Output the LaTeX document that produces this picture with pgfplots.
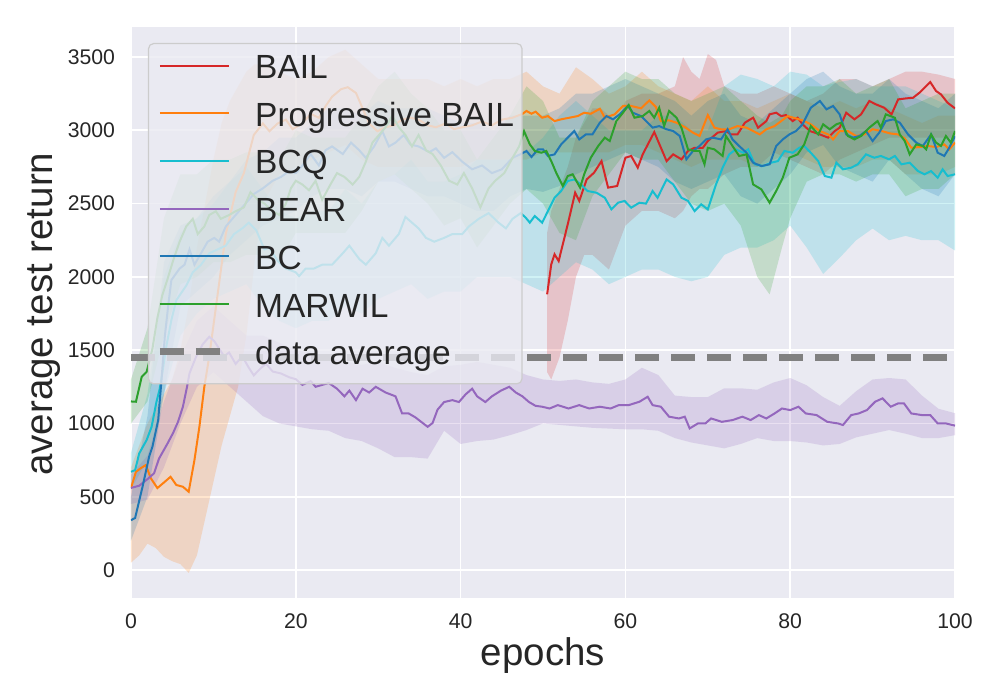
\documentclass[border=0pt]{standalone}
\usepackage{pgfplots}
\pgfplotsset{compat=1.18}
\usepackage{pgfplotstable}
\usepgfplotslibrary{fillbetween}
\usepackage{fontspec}
\setmainfont{Liberation Sans}

\definecolor{bgc}{HTML}{EAEAF2}
\definecolor{txt}{HTML}{262626}
\definecolor{cbail}{HTML}{D62728}
\definecolor{cpb}{HTML}{FF7F0E}
\definecolor{cbcq}{HTML}{17BECF}
\definecolor{cbear}{HTML}{9467BD}
\definecolor{cbc}{HTML}{1F77B4}
\definecolor{cmar}{HTML}{2CA02C}
\definecolor{cavg}{HTML}{808080}
\definecolor{legedge}{HTML}{CCCCCC}

% ---------------- mean curves ----------------
\pgfplotstableread{
x y
50.5 1881
51 2085
51.4 2154
51.9 2108
52.4 2222
53 2358
53.9 2574
54.4 2518
55.3 2665
56.2 2711
57.1 2790
57.9 2609
59 2620
60 2813
60.7 2825
61.5 2745
62.1 2836
63.5 2988
65 2790
65.8 2836
66.8 2802
67.6 2859
68.4 2881
69.4 2881
70 2927
71.2 2984
72.2 2995
72.8 2972
73.6 2972
74.5 3052
75.5 3086
76.1 3018
77.1 3063
77.5 3109
78.3 3120
78.9 3097
79.5 3104
80.3 3063
80.9 3086
81.5 3041
82.4 2995
83.6 2972
84.6 2950
85.4 2995
86 3018
86.8 3120
87.8 3075
88.6 3109
89.6 3200
90.4 3177
91.4 3154
92.3 3109
93.1 3211
94.1 3218
94.9 3222
95.7 3257
96.3 3291
97 3329
97.7 3268
98.3 3245
99.1 3188
100 3150
}\bailline

\pgfplotstableread{
x y
0 559
0.6 670
1.2 695
1.8 716
2.4 627
3.2 559
4.1 602
4.8 636
5.5 580
6.3 568
7 534
7.7 750
8.3 977
8.9 1250
9.5 1458
10.5 1875
11.5 2292
12.7 2578
13.7 2708
14.9 2968
16 3047
16.8 2994
17.8 3047
18.8 3073
19.6 3008
20.8 3047
21.8 3112
22.8 3086
23.6 3164
24.4 3229
25.5 3281
26.3 3294
27.3 3255
28.1 3151
28.9 3047
29.9 2994
30.9 3021
31.9 3034
32.9 3073
33.9 3086
34.9 3073
36 3034
37 3021
38.2 3047
39.2 3008
40.2 3021
41.4 3034
42.6 3060
43.8 3034
45 3073
46.3 3086
47.5 3112
48 3132
48.6 3113
49.1 3127
49.9 3086
50.6 3097
51.4 3063
52.2 3075
53.2 3086
54.2 3097
55 3120
55.8 3113
56.9 3147
57.5 3086
58.7 3109
59.7 3166
60.7 3166
61.9 3150
62.9 3204
63.7 3159
64.3 3063
65.3 3068
66.2 3052
67.2 3022
68.2 2984
69 2961
70 3104
70.8 3018
71.6 3007
72.6 3007
73.6 3029
74.7 3018
75.5 2995
76.3 2972
77.1 3007
78.1 3029
78.9 3063
79.7 3097
80.7 3081
81.5 3068
82.5 3041
83.6 2995
84.6 2972
85.2 2938
86 2995
87 2995
88 2961
89 2972
90 3007
91.1 2995
92.1 2979
93.1 2972
93.9 2945
94.7 2881
95.7 2886
96.7 2893
97.7 2886
98.7 2904
99.3 2870
100 2916
}\pbline

\pgfplotstableread{
x y
0 670
0.5 682
1.0 796
1.9 887
2.5 977
3.1 1150
3.5 1240
3.9 1380
4.3 1530
4.9 1705
5.5 1841
6.7 1940
7.5 2031
8.5 2083
9.5 2161
10.5 2187
11.5 2213
12.5 2292
13.5 2331
14.3 2370
15.2 2318
16.2 2187
16.8 2200
17.8 2109
18.8 2057
20 2031
20.4 2005
21.2 2057
22.2 2057
23.2 2083
24.4 2083
25.7 2161
26.5 2213
27.7 2122
28.5 2083
29.7 2161
30.5 2266
31.3 2213
32.5 2292
33.3 2409
34.1 2370
34.9 2331
35.8 2266
36.8 2240
38 2266
39 2292
40.2 2292
41 2344
42.2 2396
43.4 2435
44.6 2370
45.5 2331
46.3 2396
47.3 2435
47.9 2404
48.4 2370
49 2415
49.9 2370
50.6 2449
51.4 2540
52.2 2586
53 2654
53.8 2665
54.6 2631
55.4 2586
56.5 2574
57.5 2540
58.3 2461
59.1 2506
59.9 2518
60.7 2472
61.7 2506
62.5 2500
63.3 2586
63.9 2540
65 2665
65.8 2631
66.8 2540
67.6 2518
68.4 2449
69.2 2495
70 2461
71 2631
71.8 2745
72.6 2836
73.4 2870
74.3 2847
74.9 2870
75.7 2768
76.7 2756
77.7 2779
78.5 2790
79.3 2859
80.3 2847
81.1 2881
81.7 2893
82.5 2847
83.4 2790
84.2 2688
85 2677
85.6 2779
86.4 2734
87.4 2745
88.2 2768
89.2 2836
90.2 2813
91 2825
92 2802
92.7 2825
93.5 2768
94.5 2779
95.5 2722
96.3 2700
97.1 2722
97.9 2677
98.5 2734
99.1 2688
100 2700
}\bcqline

\pgfplotstableread{
x y
0 560
1 575
2 620
2.8 660
3.4 760
3.8 800
4.4 860
5.1 934
5.7 1010
6.3 1114
6.8 1250
7.1 1342
7.9 1455
8.7 1540
9.5 1591
10.1 1562
10.7 1510
11.3 1458
11.9 1484
12.7 1406
13.5 1458
14.3 1380
14.9 1328
15.8 1380
16.4 1406
17.2 1354
18.2 1341
19.2 1315
20 1302
20.8 1263
21.8 1289
22.4 1250
23.2 1263
24 1276
25 1237
25.9 1185
26.5 1224
27.3 1159
28.1 1237
28.9 1211
29.7 1250
30.9 1211
32.1 1185
32.9 1068
33.7 1068
34.5 1042
35.4 1003
36 977
36.6 1003
37.2 1094
38 1146
39 1159
39.8 1146
40.6 1198
41.4 1237
42 1185
43 1146
43.8 1185
44.9 1224
45.9 1250
46.7 1211
47.5 1185
48.3 1146
49.1 1120
49.9 1114
50.8 1102
51.8 1125
53.1 1102
54.4 1125
55.6 1102
56.9 1114
58.2 1102
59.2 1125
60.4 1125
61.7 1148
62.7 1182
63.3 1125
64.3 1114
65.3 1046
66.5 1034
67.2 1046
67.8 966
68.8 1000
69.7 1000
70.4 1034
71.7 1011
73 1023
74.2 1046
75.2 1023
76.2 1057
77.1 1034
78.1 1068
79 1102
80 1091
81 1114
81.9 1068
83.2 1057
84.5 1011
85.8 1000
86.4 989
87.4 1057
88.3 1068
89.3 1091
90.3 1148
91.2 1171
92.2 1114
93.1 1137
93.8 1137
94.7 1068
96 1057
97 1057
97.9 1000
98.9 1000
100 985
}\bearline

\pgfplotstableread{
x y
0 340
0.5 355
1.4 568
2.2 773
2.6 841
3.3 1023
3.7 1296
4.1 1591
4.5 1796
4.9 1978
5.9 2057
6.5 2083
7.1 2187
7.7 2083
8.5 2161
9.3 2240
10.1 2266
10.7 2240
11.5 2344
12.3 2396
13.1 2448
13.9 2500
14.9 2565
16 2604
17.2 2656
18.2 2682
19.2 2721
20 2708
20.8 2760
21.8 2838
22.8 2760
23.6 2864
24.4 2890
25.7 2838
26.7 2916
27.7 2864
28.5 2812
29.5 2890
30.5 2994
31.3 2890
32.1 2916
33.1 2968
33.9 2903
34.9 2890
36.2 2851
37 2877
38 2812
39 2851
40.2 2786
41.4 2734
42.6 2760
43.8 2708
45 2734
46.3 2812
47.3 2838
48 2859
48.6 2818
49.4 2870
50 2870
50.6 2825
51.4 2836
52.2 2904
53 2950
53.8 2995
54.4 2938
55.2 2972
56 2972
56.9 3052
57.7 3097
58.5 3075
59.3 3109
60.3 3166
60.9 3120
61.9 3097
62.5 3063
63.3 3018
64.1 3029
65 3007
65.8 2995
66.6 2961
67.4 2802
68.2 2859
69 2893
69.8 2938
70.6 2950
71.6 2938
72.4 3007
73 2938
73.8 2893
74.7 2847
75.5 2779
76.5 2756
77.5 2768
78.3 2893
79.1 2938
79.9 2972
80.7 2995
81.5 3041
82.5 3154
83.6 3200
84.4 3143
85.2 3166
86 3109
86.8 2972
87.6 2950
88.4 2961
89.2 2995
90 2927
90.8 2984
91.6 3063
92.5 3075
93.3 3052
94.3 2972
95.3 2916
96.1 2893
97.1 2972
97.9 2847
98.7 2825
99.3 2881
100 2961
}\bcline

\pgfplotstableread{
x y
0 1150
0.6 1148
1.3 1318
1.9 1352
2.6 1510
3.2 1719
3.8 1875
4.4 1979
5.1 2109
5.9 2240
6.7 2344
7.5 2396
8.1 2292
8.9 2344
9.5 2422
10.3 2448
10.9 2396
11.9 2422
12.7 2448
13.7 2474
14.5 2578
15.4 2526
16.2 2500
17.2 2448
18 2422
18.8 2500
19.4 2604
20 2656
20.8 2630
21.6 2591
22.4 2656
23.2 2526
24.2 2630
25 2708
25.9 2682
26.9 2630
27.7 2682
28.5 2786
29.3 2916
30.1 2968
30.9 3021
31.7 3099
32.5 3021
33.3 2968
34.1 2890
34.9 2968
35.8 2864
36.6 2838
37.6 2760
38.6 2656
39.6 2630
40.4 2708
41.4 2604
42.4 2474
43.4 2604
44.2 2656
45.3 2708
46.3 2812
47.1 2890
47.7 2994
48.4 2904
49 2859
49.8 2847
50.4 2859
51 2790
51.6 2711
52.4 2620
53 2688
53.6 2700
54.5 2609
55 2700
55.8 2813
56.7 2893
57.5 2950
58.1 2927
58.9 3063
59.7 3120
60.4 3172
61.1 3086
62.1 3097
62.9 3132
63.5 3086
64.1 3154
64.7 3029
65.3 3132
66.2 3086
66.8 3018
67.6 2870
68.4 2859
69 2859
69.6 2768
70 2881
70.8 2870
71.8 2825
72.2 2961
73 2893
73.8 2825
74.7 2836
75.5 2631
76.5 2597
77.5 2506
78.3 2586
79.1 2677
79.9 2813
80.9 2836
81.7 2904
82.5 3029
83.4 2972
84 3041
84.8 3007
85.6 3041
86.2 3052
87 2961
87.8 2938
88.6 2961
89.6 3018
90.6 3063
91 3018
91.6 3109
92.7 3086
93.3 2972
93.9 2927
94.5 2836
95.3 2904
96.1 2893
96.5 2870
97.1 2972
97.7 2916
98.3 2893
98.9 2961
99.5 2916
100 2995
}\marline

% ---------------- confidence bands ----------------
\pgfplotstableread{
x lo hi
50.5 1350 2300
51 1300 2450
52 1450 2600
53 1700 2750
54 2000 2950
55 2150 3050
56 2150 3150
57 2100 3150
58 2050 3100
59 2200 3050
60 2350 3200
62 2450 3250
64 2450 3250
66 2400 3300
67 2450 3500
68 2550 3400
69 2600 3350
70 2600 3520
71 2650 3480
72 2700 3300
74 2750 3250
76 2750 3250
78 2850 3300
80 2800 3250
82 2750 3200
84 2700 3250
86 2800 3350
88 2850 3350
90 2900 3300
92 2950 3350
94 2950 3400
96 2950 3400
98 2950 3380
100 2950 3350
}\bailband

\pgfplotstableread{
x lo hi
0 50 700
1 100 850
2 180 1000
3 150 1100
4 90 1200
5 60 1300
6 40 1500
7 -20 1800
8 100 2200
9 350 2500
10 600 2800
11 850 3050
12 1050 3200
13 1250 3300
14 1600 3400
15 2100 3450
16 2500 3450
18 2700 3400
20 2750 3350
22 2800 3400
24 2850 3500
26 2900 3550
28 2800 3450
30 2750 3350
32 2750 3350
34 2750 3350
36 2750 3350
38 2750 3300
40 2750 3350
42 2800 3300
44 2800 3350
46 2800 3350
48 2800 3400
50 2850 3300
52 2850 3250
54 2850 3430
56 2850 3350
58 2850 3250
60 2900 3300
62 2900 3400
64 2850 3300
66 2800 3250
68 2750 3200
70 2800 3300
72 2800 3200
74 2800 3200
76 2750 3150
78 2800 3200
80 2850 3250
82 2800 3200
84 2750 3150
86 2750 3200
88 2750 3150
90 2800 3200
92 2800 3150
94 2700 3100
96 2700 3050
98 2700 3100
100 2750 3100
}\pbband

\pgfplotstableread{
x lo hi
0 550 800
2 750 1200
4 1200 2000
6 1600 2300
8 1750 2400
10 1850 2500
12 1900 2650
14 1950 2750
16 1800 2600
18 1700 2450
20 1650 2400
22 1700 2450
24 1700 2450
26 1800 2600
28 1750 2500
30 1850 2650
32 1900 2700
34 1950 2800
36 1850 2650
38 1900 2650
40 1900 2700
42 2000 2800
44 2000 2800
46 2000 2800
48 1950 2850
50 1900 2950
52 2000 3100
54 2100 3200
56 2050 3100
58 1950 3000
60 2000 3000
62 2050 3000
64 2050 3100
66 2000 3100
68 1970 3000
70 2000 3000
72 2150 3300
74 2200 3380
76 2200 3350
78 2250 3300
80 2350 3400
82 2200 3380
84 2020 3300
86 2130 3330
88 2250 3350
90 2330 3300
92 2250 3300
94 2280 3300
96 2250 3250
98 2250 3200
100 2180 3150
}\bcqband

\pgfplotstableread{
x lo hi
0 450 650
2 480 780
4 700 1150
6 1000 1450
8 1250 1700
10 1350 1800
12 1250 1700
14 1150 1600
16 1050 1600
18 1000 1550
20 980 1500
22 960 1480
24 950 1450
26 900 1420
28 880 1400
30 830 1420
32 770 1380
34 770 1350
36 760 1330
38 950 1390
40 860 1400
42 880 1420
44 890 1400
46 920 1380
48 955 1330
50 1000 1300
52 990 1290
54 980 1300
56 970 1280
58 965 1270
60 960 1300
62 960 1380
64 950 1330
66 900 1190
68 870 1180
70 850 1180
72 830 1240
74 860 1240
76 900 1230
78 880 1280
80 880 1310
82 870 1260
84 850 1180
86 860 1120
88 905 1220
90 930 1300
92 955 1310
94 930 1300
96 900 1190
98 900 1100
100 920 1070
}\bearband

\pgfplotstableread{
x lo hi
0 200 500
2 500 1050
4 1200 2100
6 1800 2350
8 1900 2400
10 2000 2550
12 2150 2650
14 2250 2800
16 2350 2850
18 2400 2950
20 2450 2950
22 2550 3050
24 2600 3150
26 2600 3150
28 2550 3100
30 2650 3200
32 2650 3150
34 2600 3150
36 2550 3150
38 2550 3100
40 2500 3050
42 2450 3050
44 2450 3000
46 2550 3100
48 2600 3100
50 2580 3100
52 2620 3150
54 2700 3250
56 2750 3250
58 2800 3300
60 2850 3350
62 2800 3300
64 2750 3250
66 2650 3200
68 2600 3100
70 2650 3200
72 2700 3250
74 2550 3100
76 2500 3050
78 2600 3150
80 2700 3250
82 2850 3350
84 2900 3400
86 2750 3300
88 2700 3250
90 2650 3250
92 2800 3350
94 2700 3250
96 2600 3200
98 2550 3150
100 2700 3250
}\bcband

\pgfplotstableread{
x lo hi
0 1000 1300
2 1150 1650
4 1600 2400
6 1950 2700
8 2000 2700
10 2100 2800
12 2100 2800
14 2150 2850
16 2150 2850
18 2100 2800
20 2300 3000
22 2300 2950
24 2300 2950
26 2300 2950
28 2450 3100
30 2650 3300
32 2700 3400
34 2600 3250
36 2500 3150
38 2350 3000
40 2400 3000
42 2200 2800
44 2350 2950
46 2500 3100
48 2600 3300
50 2500 3200
52 2300 2950
54 2250 2950
56 2550 3200
58 2700 3300
60 2850 3400
62 2800 3350
64 2800 3350
66 2650 3250
68 2500 3200
70 2450 3250
72 2500 3300
74 2350 3200
76 2000 3100
77.5 1880 3050
79 2200 3100
80 2400 3200
82 2650 3300
84 2700 3300
86 2700 3350
88 2650 3250
90 2700 3300
92 2700 3350
94 2550 3150
96 2600 3200
98 2600 3250
100 2700 3250
}\marband

\begin{document}
\begin{tikzpicture}
\begin{axis}[
  scale only axis,
  width=412pt, height=285.5pt,
  xmin=0, xmax=100, ymin=-191, ymax=3705,
  axis background/.style={fill=bgc},
  axis line style={draw=none},
  major tick length=0pt,
  tick style={draw=none},
  grid=major,
  major grid style={white, line width=0.85pt},
  xtick={0,20,40,60,80,100},
  ytick={0,500,1000,1500,2000,2500,3000,3500},
  scaled ticks=false,
  /pgf/number format/1000 sep={},
  /pgf/number format/assume math mode=true,
  ticklabel style={font=\fontsize{10.6}{12}\selectfont, text=txt},
  yticklabel style={xshift=-4.5pt},
  xticklabel style={yshift=-4.5pt},
  xlabel={epochs},
  ylabel={average test return},
  label style={font=\fontsize{19.25}{23}\selectfont, text=txt},
  xlabel style={at={(axis description cs:0.5,-0.1016)}, anchor=center},
  ylabel style={at={(axis description cs:-0.1056,0.497)}, anchor=center, rotate=0},
  legend cell align=left,
  legend image code/.code={\draw[#1] (0pt,2.5pt) -- (34.5pt,2.5pt);},
  legend style={
    at={(axis description cs:0.0206,0.972)}, anchor=north west,
    fill=bgc, fill opacity=0.8, text opacity=1,
    draw=legedge, line width=0.6pt, rounded corners=2.5pt,
    font=\fontsize{16.75}{20}\selectfont, text=txt,
    inner xsep=4pt, inner ysep=5pt,
    row sep=6.85pt,
    nodes={inner sep=0pt, text height=12.5pt, text depth=4.5pt},
    /tikz/every odd column/.append style={column sep=11.5pt},
  },
]
% BAIL
\addplot[name path=bailhi, draw=none, forget plot] table[x=x, y=hi] {\bailband};
\addplot[name path=baillo, draw=none, forget plot] table[x=x, y=lo] {\bailband};
\addplot[cbail, fill opacity=0.2, draw=none, forget plot] fill between[of=bailhi and baillo];
\addplot[cbail, line width=1pt] table[x=x, y=y] {\bailline};
\addlegendentry{BAIL}
% Progressive BAIL
\addplot[name path=pbhi, draw=none, forget plot] table[x=x, y=hi] {\pbband};
\addplot[name path=pblo, draw=none, forget plot] table[x=x, y=lo] {\pbband};
\addplot[cpb, fill opacity=0.2, draw=none, forget plot] fill between[of=pbhi and pblo];
\addplot[cpb, line width=1pt] table[x=x, y=y] {\pbline};
\addlegendentry{Progressive BAIL}
% BCQ
\addplot[name path=bcqhi, draw=none, forget plot] table[x=x, y=hi] {\bcqband};
\addplot[name path=bcqlo, draw=none, forget plot] table[x=x, y=lo] {\bcqband};
\addplot[cbcq, fill opacity=0.2, draw=none, forget plot] fill between[of=bcqhi and bcqlo];
\addplot[cbcq, line width=1pt] table[x=x, y=y] {\bcqline};
\addlegendentry{BCQ}
% BEAR
\addplot[name path=bearhi, draw=none, forget plot] table[x=x, y=hi] {\bearband};
\addplot[name path=bearlo, draw=none, forget plot] table[x=x, y=lo] {\bearband};
\addplot[cbear, fill opacity=0.2, draw=none, forget plot] fill between[of=bearhi and bearlo];
\addplot[cbear, line width=1pt] table[x=x, y=y] {\bearline};
\addlegendentry{BEAR}
% BC
\addplot[name path=bchi, draw=none, forget plot] table[x=x, y=hi] {\bcband};
\addplot[name path=bclo, draw=none, forget plot] table[x=x, y=lo] {\bcband};
\addplot[cbc, fill opacity=0.2, draw=none, forget plot] fill between[of=bchi and bclo];
\addplot[cbc, line width=1pt] table[x=x, y=y] {\bcline};
\addlegendentry{BC}
% MARWIL
\addplot[name path=marhi, draw=none, forget plot] table[x=x, y=hi] {\marband};
\addplot[name path=marlo, draw=none, forget plot] table[x=x, y=lo] {\marband};
\addplot[cmar, fill opacity=0.2, draw=none, forget plot] fill between[of=marhi and marlo];
\addplot[cmar, line width=1pt] table[x=x, y=y] {\marline};
\addlegendentry{MARWIL}
% data average
\addplot[cavg, line width=3.3pt, dash pattern=on 12pt off 6pt] coordinates {(0,1450) (100,1450)};
\addlegendentry{data average}
\end{axis}
\path (current axis.south west) ++(-65.5pt,-51pt);
\path (current axis.north east) ++(22.5pt,13.5pt);
\end{tikzpicture}
\end{document}
